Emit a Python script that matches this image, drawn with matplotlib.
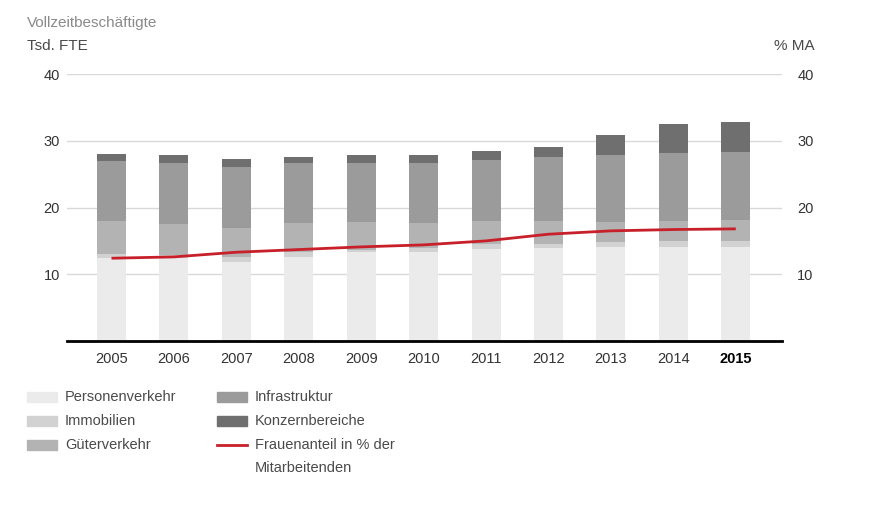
import matplotlib.pyplot as plt
from matplotlib.patches import Rectangle
from matplotlib.lines import Line2D

plt.rcParams['font.family'] = ['Liberation Sans', 'DejaVu Sans']

# ---------- DATA (Tsd. FTE, cumulative reading off the chart) ----------
years = ["2005", "2006", "2007", "2008", "2009", "2010",
         "2011", "2012", "2013", "2014", "2015"]
personenverkehr = [12.4, 12.4, 11.8, 12.6, 13.3, 13.3, 13.8, 14.0, 14.1, 14.1, 14.1]
immobilien      = [0.6, 0.5, 0.8, 0.7, 0.4, 0.6, 0.8, 0.6, 0.7, 0.9, 0.9]
gueterverkehr   = [5.0, 4.7, 4.4, 4.4, 4.1, 3.8, 3.4, 3.4, 3.1, 3.0, 3.1]
infrastruktur   = [9.0, 9.0, 9.0, 9.0, 8.9, 9.0, 9.1, 9.5, 10.0, 10.2, 10.2]
konzernbereiche = [1.0, 1.2, 1.3, 0.9, 1.1, 1.2, 1.3, 1.6, 3.0, 4.3, 4.5]
frauenanteil    = [12.4, 12.6, 13.3, 13.7, 14.1, 14.4, 15.0, 16.0, 16.5, 16.7, 16.8]

series = [
    ("Personenverkehr", personenverkehr, "#ebebeb"),
    ("Immobilien", immobilien, "#d2d2d2"),
    ("Güterverkehr", gueterverkehr, "#b3b3b3"),
    ("Infrastruktur", infrastruktur, "#9b9b9b"),
    ("Konzernbereiche", konzernbereiche, "#6f6f6f"),
]
RED = "#c8202a"
TXT = "#4a4a4a"

fig = plt.figure(figsize=(8.73, 5.09), dpi=100)
ax = fig.add_axes([67 / 873, 1 - 341 / 509, 715 / 873, 267 / 509])

x = list(range(len(years)))
bottom = [0.0] * len(years)
for name, vals, col in series:
    ax.bar(x, vals, width=0.465, bottom=bottom, color=col, zorder=2)
    bottom = [b + v for b, v in zip(bottom, vals)]

ax2 = ax.twinx()
ax2.plot(x, frauenanteil, color=RED, lw=2.0, zorder=5, solid_capstyle="butt")
ax2.set_ylim(0, 40)

ax.set_ylim(0, 40)
ax.set_xlim(-0.713, 10.74)
ax.set_yticks([10, 20, 30, 40])
ax2.set_yticks([10, 20, 30, 40])
ax.grid(axis="y", color="#d9d9d9", lw=1, zorder=0)
ax.set_axisbelow(True)

for a in (ax, ax2):
    for s in ("top", "left", "right", "bottom"):
        a.spines[s].set_visible(False)
    a.tick_params(length=0, labelsize=10.5, colors="#333333")
ax.axhline(0, color="black", lw=2, zorder=6, clip_on=False)
ax.tick_params(axis="y", pad=5)
ax2.tick_params(axis="y", pad=11)

ax.set_xticks(x)
ax.set_xticklabels(years)
ax.tick_params(axis="x", pad=8)
for lbl in ax.get_xticklabels():
    if lbl.get_text() == "2015":
        lbl.set_fontweight("bold")
        lbl.set_color("black")

# ---------- TITLES ----------
fig.text(27 / 873, 1 - 23 / 509, "Vollzeitbeschäftigte", fontsize=11,
         color="#8a8a8a", va="center", ha="left")
fig.text(27 / 873, 1 - 46 / 509, "Tsd. FTE", fontsize=11,
         color=TXT, va="center", ha="left")
fig.text(815 / 873, 1 - 46 / 509, "% MA", fontsize=11,
         color=TXT, va="center", ha="right")

# ---------- LEGEND ----------
rows = [397, 421, 445, 468]
legend_items = [
    (27, rows[0], "patch", series[0][2], "Personenverkehr"),
    (27, rows[1], "patch", series[1][2], "Immobilien"),
    (27, rows[2], "patch", series[2][2], "Güterverkehr"),
    (217, rows[0], "patch", series[3][2], "Infrastruktur"),
    (217, rows[1], "patch", series[4][2], "Konzernbereiche"),
    (217, rows[2], "line", RED, "Frauenanteil in % der"),
]
for lx, ly, kind, col, label in legend_items:
    if kind == "patch":
        fig.patches.append(Rectangle((lx / 873, 1 - (ly + 5) / 509), 30 / 873, 10 / 509,
                                     transform=fig.transFigure, color=col))
    else:
        fig.lines.append(Line2D([lx / 873, (lx + 30) / 873], [1 - ly / 509] * 2,
                                transform=fig.transFigure, color=col, lw=2))
    fig.text((lx + 38) / 873, 1 - ly / 509, label, fontsize=10.5,
             color=TXT, va="center", ha="left")
fig.text(255 / 873, 1 - rows[3] / 509, "Mitarbeitenden", fontsize=10.5,
         color=TXT, va="center", ha="left")

fig.savefig("out.png", dpi=100)
